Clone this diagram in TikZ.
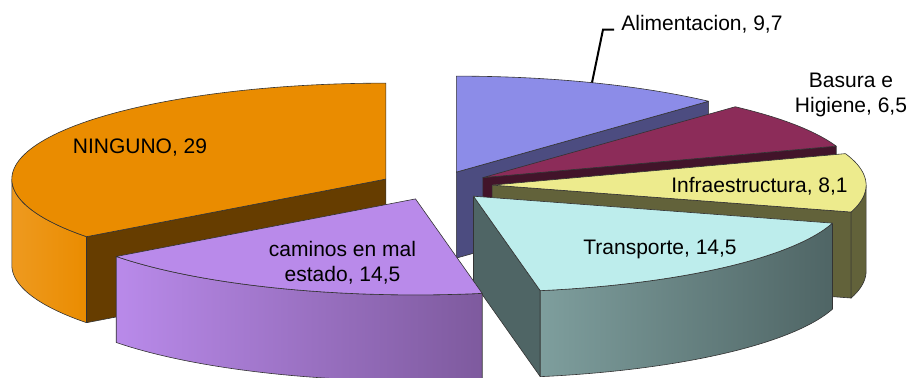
\documentclass[tikz,border=0pt]{standalone}
\usepackage{fontspec}
\setmainfont{Liberation Sans}
\usepackage{xcolor}

\definecolor{ningtop}{HTML}{EA8C00}
\definecolor{ningside}{HTML}{663D00}
\definecolor{ninglight}{HTML}{EE9A20}
\definecolor{camtop}{HTML}{B98AEA}
\definecolor{camdark}{HTML}{7E5A9E}
\definecolor{transtop}{HTML}{BDEDEC}
\definecolor{transside}{HTML}{4F6565}
\definecolor{translight}{HTML}{7E9E9D}
\definecolor{infratop}{HTML}{EDEB8D}
\definecolor{infraside}{HTML}{62623A}
\definecolor{bastop}{HTML}{8C2C59}
\definecolor{basside}{HTML}{42142A}
\definecolor{alimtop}{HTML}{8C8CE8}
\definecolor{alimside}{HTML}{4C4C80}

\begin{document}
\begin{tikzpicture}[x=0.5pt, y=-0.5pt,
    face/.style={draw=black!80, line width=0.3pt, line join=round},
    lbl/.style={font=\fontsize{10.5}{12.3}\selectfont, align=center, inner sep=0pt}]
    \def\rx{374}
    \def\ry{96}
    \def\dep{86}
    \useasboundingbox (0,0) rectangle (909,377);
    \begin{scope}
    \clip (0,0) rectangle (909,377);

    % NINGUNO
    \begin{scope}[shift={(385.8,179.1)}]
      \filldraw[fill=ningside, face] (0,0) -- ({\rx*cos(216.85)},{-\ry*sin(216.85)}) -- ++(0,\dep) -- (0,\dep) -- cycle;
      \shadedraw[left color=ninglight, middle color=ningtop, right color=ningtop, face] plot[domain=180:216.85, samples=30] ({\rx*cos(\x)},{-\ry*sin(\x)})
        -- plot[domain=216.85:180, samples=30] ({\rx*cos(\x)},{-\ry*sin(\x)+\dep}) -- cycle;
      \filldraw[fill=ningtop, face] (0,0) -- plot[domain=90:216.85, samples=80] ({\rx*cos(\x)},{-\ry*sin(\x)}) -- cycle;
    \end{scope}

    % Alimentacion
    \begin{scope}[shift={(456.3,172.1)}]
      \filldraw[fill=alimside, face] (0,0) -- ({\rx*cos(47.57)},{-\ry*sin(47.57)}) -- ++(0,\dep) -- (0,\dep) -- cycle;
      \filldraw[fill=alimtop, face] (0,0) -- plot[domain=47.57:90, samples=40] ({\rx*cos(\x)},{-\ry*sin(\x)}) -- cycle;
    \end{scope}

    % Basura e Higiene
    \begin{scope}[shift={(482.9,177.6)}]
      \filldraw[fill=basside, face] (0,0) -- ({\rx*cos(19.14)},{-\ry*sin(19.14)}) -- ++(0,\dep) -- (0,\dep) -- cycle;
      \filldraw[fill=bastop, face] (0,0) -- plot[domain=19.14:47.57, samples=40] ({\rx*cos(\x)},{-\ry*sin(\x)}) -- cycle;
    \end{scope}

    % Infraestructura
    \begin{scope}[shift={(492.1,185.1)}]
      \filldraw[fill=infraside, face] (0,0) -- ({\rx*cos(343.71)},{-\ry*sin(343.71)}) -- ++(0,\dep) -- (0,\dep) -- cycle;
      \filldraw[fill=infraside, face] plot[domain=343.71:360, samples=20] ({\rx*cos(\x)},{-\ry*sin(\x)})
        -- plot[domain=360:343.71, samples=20] ({\rx*cos(\x)},{-\ry*sin(\x)+\dep}) -- cycle;
      \filldraw[fill=infratop, face] (0,0) -- plot[domain=343.71:379.14, samples=40] ({\rx*cos(\x)},{-\ry*sin(\x)}) -- cycle;
    \end{scope}

    % Transporte
    \begin{scope}[shift={(473.5,196.2)}]
      \filldraw[fill=transside, face] (0,0) -- ({\rx*cos(280.28)},{-\ry*sin(280.28)}) -- ++(0,\dep) -- (0,\dep) -- cycle;
      \shadedraw[left color=translight, middle color=transside!75!translight, right color=transside, face]
        plot[domain=280.28:343.71, samples=50] ({\rx*cos(\x)},{-\ry*sin(\x)})
        -- plot[domain=343.71:280.28, samples=50] ({\rx*cos(\x)},{-\ry*sin(\x)+\dep}) -- cycle;
      \filldraw[fill=transtop, face] (0,0) -- plot[domain=280.28:343.71, samples=60] ({\rx*cos(\x)},{-\ry*sin(\x)}) -- cycle;
    \end{scope}

    % caminos en mal estado
    \begin{scope}[shift={(415.5,198.9)}]
      \shadedraw[left color=camtop, middle color=camtop!80!camdark, right color=camdark, face]
        plot[domain=216.85:280.28, samples=60] ({\rx*cos(\x)},{-\ry*sin(\x)})
        -- plot[domain=280.28:216.85, samples=60] ({\rx*cos(\x)},{-\ry*sin(\x)+\dep}) -- cycle;
      \filldraw[fill=camtop, face] (0,0) -- plot[domain=216.85:280.28, samples=60] ({\rx*cos(\x)},{-\ry*sin(\x)}) -- cycle;
    \end{scope}
    \end{scope}

    % labels
    \node[lbl] (ninguno) at (140,148) {NINGUNO, 29};
    \node[lbl] (caminos) at (342.5,263) {caminos en mal\\estado, 14,5};
    \node[lbl] (transporte) at (660,249) {Transporte, 14,5};
    \node[lbl] (infra) at (759.5,186) {Infraestructura, 8,1};
    \node[lbl] (basura) at (851,95) {Basura e\\Higiene, 6,5};
    \node[lbl, anchor=west] (alim) at (621,24) {Alimentacion, 9,7};
    \coordinate (alimtip) at (592,82.6);
    \draw[line width=1pt] (alimtip) -- ++(11,-53) -- ([xshift=-3.5pt]alim.west |- 0,29.6);
\end{tikzpicture}
\end{document}
